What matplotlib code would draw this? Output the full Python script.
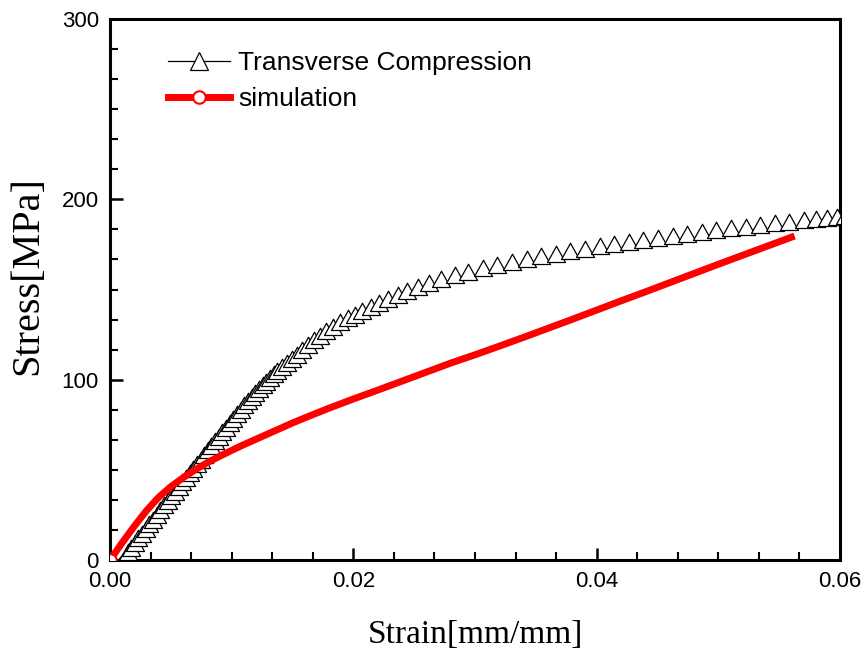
import matplotlib
matplotlib.use("Agg")
import matplotlib.pyplot as plt
from matplotlib.path import Path
from matplotlib.ticker import MultipleLocator, AutoMinorLocator, FormatStrFormatter

# measured transverse compression curve
exp_strain = [0.0007, 0.0010, 0.0013, 0.0016, 0.0019, 0.0022, 0.0025, 0.0028,
              0.0031, 0.0034, 0.0037, 0.0040, 0.0043, 0.0046, 0.0049, 0.0052,
              0.0055, 0.0058, 0.0061, 0.0064, 0.0067, 0.0070, 0.0073, 0.0076,
              0.0079, 0.0082, 0.0085, 0.0088, 0.0091, 0.0094, 0.0097, 0.0100,
              0.0103, 0.0106, 0.0109, 0.0112, 0.0115, 0.0118, 0.0121, 0.0124,
              0.0127, 0.0130, 0.0134, 0.0138, 0.0142, 0.0146, 0.0150, 0.0155,
              0.0160, 0.0165, 0.0170, 0.0176, 0.0182, 0.0188, 0.0194, 0.0200,
              0.0207, 0.0214, 0.0221, 0.0229, 0.0237, 0.0246, 0.0255, 0.0265,
              0.0276, 0.0287, 0.0299, 0.0311, 0.0323, 0.0335, 0.0347, 0.0359,
              0.0371, 0.0383, 0.0395, 0.0407, 0.0419, 0.0431, 0.0443, 0.0455,
              0.0467, 0.0479, 0.0491, 0.0503, 0.0515, 0.0527, 0.0539, 0.0551,
              0.0563, 0.0573, 0.0582, 0.0590, 0.0597]
exp_stress = [0.0, 2.4, 5.0, 7.6, 10.2, 12.8, 15.4, 18.0,
              20.6, 23.2, 25.8, 28.3, 30.9, 33.4, 36.0, 38.6,
              41.2, 43.7, 46.3, 48.8, 51.3, 53.9, 56.4, 58.9,
              61.5, 64.0, 66.5, 69.0, 71.5, 74.0, 76.5, 78.9,
              81.3, 83.6, 85.9, 88.1, 90.3, 92.4, 94.5, 96.5,
              98.5, 100.4, 102.7, 105.0, 107.2, 109.4, 112.0, 114.8,
              117.5, 120.0, 122.4, 125.0, 127.4, 129.6, 131.7, 133.7,
              135.9, 138.1, 140.3, 142.5, 144.7, 147.0, 149.1, 151.3,
              153.5, 155.5, 157.5, 159.3, 161.0, 162.6, 164.1, 165.5,
              166.9, 168.2, 169.5, 170.8, 172.0, 173.2, 174.3, 175.4,
              176.5, 177.5, 178.5, 179.5, 180.4, 181.3, 182.2, 183.1,
              183.9, 184.7, 185.4, 186.0, 186.5]

# simulation result
sim_strain = [0.0000, 0.0010, 0.0020, 0.0030, 0.0040, 0.0050, 0.0060, 0.0070,
              0.0080, 0.0090, 0.0100, 0.0110, 0.0120, 0.0130, 0.0140, 0.0150,
              0.0160, 0.0180, 0.0200, 0.0220, 0.0240, 0.0260, 0.0280, 0.0300,
              0.0320, 0.0340, 0.0360, 0.0380, 0.0400, 0.0420, 0.0440, 0.0460,
              0.0480, 0.0500, 0.0520, 0.0540, 0.0560]
sim_stress = [0.0, 9.6, 18.8, 27.4, 34.8, 40.7, 45.6, 50.0,
              54.0, 57.5, 60.8, 64.0, 67.0, 70.0, 73.0, 76.0,
              78.8, 84.2, 89.3, 94.2, 99.2, 104.2, 109.2, 113.8,
              118.6, 123.5, 128.5, 133.5, 138.6, 143.7, 148.7, 153.8,
              158.9, 164.0, 169.0, 174.0, 179.0]

# triangle sitting on its lower-left corner, like the Origin symbol
tri = Path([(0, 0), (1, 0), (0.5, 0.9), (0, 0)],
           [Path.MOVETO, Path.LINETO, Path.LINETO, Path.CLOSEPOLY])

fig = plt.figure(figsize=(8.67, 6.57), dpi=100)
ax = fig.add_axes([0.1269, 0.1476, 0.8420, 0.8235])

ax.plot(exp_strain, exp_stress, color="black", lw=0.9, marker=tri,
        markersize=26, markerfacecolor="white", markeredgecolor="black",
        markeredgewidth=0.9, label="Transverse Compression", zorder=3)
ax.plot(sim_strain, sim_stress, color="red", lw=5, marker="o", markevery=[0],
        markersize=9, markerfacecolor="white", markeredgecolor="red",
        markeredgewidth=1.5, label="simulation", zorder=4)

ax.set_xlim(0, 0.06)
ax.set_ylim(0, 300)
ax.xaxis.set_major_locator(MultipleLocator(0.02))
ax.xaxis.set_minor_locator(AutoMinorLocator(6))
ax.yaxis.set_major_locator(MultipleLocator(100))
ax.yaxis.set_minor_locator(AutoMinorLocator(6))
ax.xaxis.set_major_formatter(FormatStrFormatter("%.2f"))

for s in ax.spines.values():
    s.set_linewidth(2.2)
ax.tick_params(which="major", direction="in", length=9, width=1.8,
               labelsize=16, pad=8, top=False, right=False)
ax.tick_params(which="minor", direction="in", length=6, width=1.5,
               top=False, right=False)
for lbl in ax.get_xticklabels() + ax.get_yticklabels():
    lbl.set_fontfamily("Liberation Sans")

ax.set_xlabel("Strain[mm/mm]", fontsize=24, family="Liberation Serif", labelpad=20)
ax.set_ylabel("Stress[MPa]", fontsize=29, family="Liberation Serif")
ax.yaxis.set_label_coords(-0.088, 0.525)

leg = ax.legend(loc="upper left", bbox_to_anchor=(0.065, 0.96), frameon=False,
                prop={"family": "Liberation Sans", "size": 19},
                handlelength=2.35, handletextpad=0.3, labelspacing=0.45,
                borderaxespad=0)
h = leg.legend_handles[0]
h.set_marker("^")
h.set_markersize(13)

fig.savefig("out.png", dpi=100)
